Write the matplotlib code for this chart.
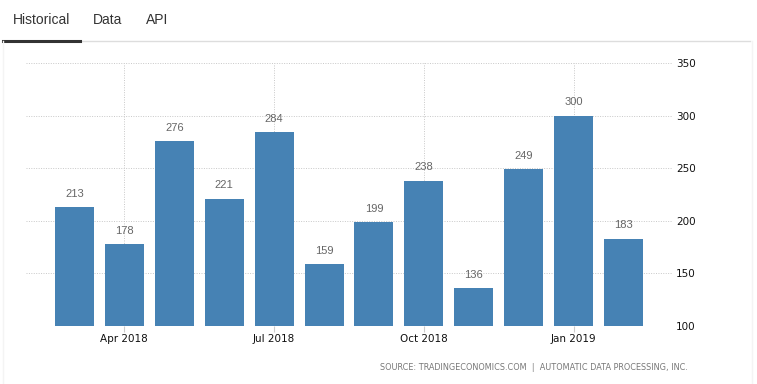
import matplotlib.pyplot as plt
from matplotlib.lines import Line2D
import numpy as np

months = ['Mar 2018', 'Apr 2018', 'May 2018', 'Jun 2018', 'Jul 2018', 'Aug 2018',
          'Sep 2018', 'Oct 2018', 'Nov 2018', 'Dec 2018', 'Jan 2019', 'Feb 2019']
values = [213, 178, 276, 221, 284, 159, 199, 238, 136, 249, 300, 183]
tick_labels = ['Apr 2018', 'Jul 2018', 'Oct 2018', 'Jan 2019']
y_ticks = [100, 150, 200, 250, 300, 350]
tabs = ['Historical', 'Data', 'API']

W, H = 757, 384
fig = plt.figure(figsize=(W / 100, H / 100), dpi=100)

# tabs header
tab_x = [13, 93, 146]
for name, x in zip(tabs, tab_x):
    fig.text(x / W, 1 - 20 / H, name, fontsize=10, color='#333333',
             family='Liberation Sans', va='center', ha='left')
fig.add_artist(Line2D([80 / W, 750 / W], [1 - 41 / H, 1 - 41 / H],
                      color='#dddddd', lw=1, transform=fig.transFigure))
fig.add_artist(Line2D([3 / W, 80 / W], [1 - 41 / H, 1 - 41 / H],
                      color='#333333', lw=2.2, transform=fig.transFigure))
# faint frame round the chart
for xs, ys in [([3, 3], [41, 384]), ([752, 752], [41, 384])]:
    fig.add_artist(Line2D([v / W for v in xs], [1 - v / H for v in ys],
                          color='#f4f4f4', lw=1, transform=fig.transFigure))

ax = fig.add_axes([26 / W, 1 - 326 / H, (672 - 26) / W, (326 - 63) / H])
x = np.arange(len(months))
bars = ax.bar(x, values, width=0.78, color='#4682b4', zorder=3)
for xi, v in zip(x, values):
    ax.annotate(str(v), (xi, v), xytext=(0, 6), textcoords='offset points',
                ha='center', va='bottom', fontsize=8, color='#666666',
                family='Liberation Sans')

ax.set_ylim(100, 350)
ax.set_xlim(-0.97, 11.97)
ax.set_yticks(y_ticks)
ax.set_xticks([months.index(t) for t in tick_labels])
ax.set_xticklabels(tick_labels)
ax.yaxis.tick_right()
ax.tick_params(axis='y', length=0, pad=3, labelsize=7.5, labelcolor='#111111')
ax.tick_params(axis='x', length=4, color='#cccccc', pad=2, labelsize=7.5, labelcolor='#111111')
for s in ax.spines.values():
    s.set_visible(False)
ax.grid(True, color='#c8c8c8', linestyle=(0, (1, 1.5)), lw=0.7, zorder=0)
ax.set_axisbelow(True)

fig.text(688 / W, 1 - 368 / H,
         'SOURCE: TRADINGECONOMICS.COM  |  AUTOMATIC DATA PROCESSING, INC.',
         fontsize=5.9, color='#777777', ha='right', va='center')

fig.savefig('out.png', dpi=100)
